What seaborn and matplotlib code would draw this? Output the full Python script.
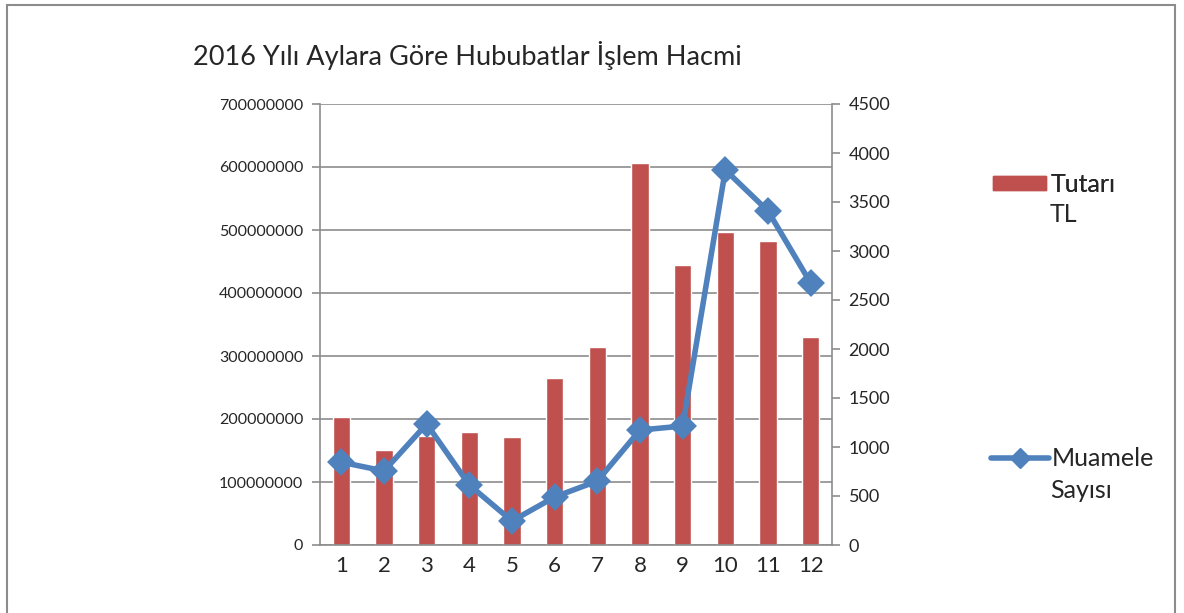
import numpy as np
import pandas as pd
import matplotlib.pyplot as plt
import seaborn as sns
from matplotlib.patches import Rectangle
from matplotlib.lines import Line2D

months = ["1", "2", "3", "4", "5", "6", "7", "8", "9", "10", "11", "12"]
tutari_tl = [203e6, 151e6, 173e6, 179e6, 171e6, 265e6, 314e6, 606e6, 444e6, 497e6, 482e6, 330e6]
muamele_sayisi = [845, 755, 1235, 612, 245, 490, 653, 1173, 1214, 3827, 3408, 2673]

df = pd.DataFrame({"Ay": months, "Tutarı TL": tutari_tl, "Muamele Sayısı": muamele_sayisi})

sns.set_style("white")
plt.rcParams["font.family"] = ["Lato", "DejaVu Sans"]

bar_color = "#C0504D"
line_color = "#4F81BD"
grid_color = "#8C8C8C"

fig = plt.figure(figsize=(11.84, 6.13), dpi=100)
ax = fig.add_axes([320 / 1184, 1 - 545 / 613, 512 / 1184, 441 / 613])

sns.barplot(data=df, x="Ay", y="Tutarı TL", color=bar_color, width=0.4,
            saturation=1, ax=ax, zorder=2)
ax.set_ylim(0, 700e6)
ax.set_yticks(np.arange(0, 700e6 + 1, 100e6))
ax.set_yticklabels([f"{int(v)}" for v in np.arange(0, 700e6 + 1, 100e6)], fontsize=11.5)
ax.set_xlim(-0.5, 11.5)
ax.set_xlabel("")
ax.set_ylabel("")
ax.tick_params(axis="x", length=0, labelsize=16, pad=8)
ax.set_xticks(np.arange(-0.5, 12, 1), minor=True)
ax.tick_params(axis="x", which="minor", length=6, color=grid_color, width=1.2)
ax.tick_params(axis="y", length=6, color=grid_color, width=1.2, direction="out", pad=6)
ax.yaxis.grid(True, color=grid_color, linewidth=1.2, zorder=0)
ax.set_axisbelow(True)
for side in ["top", "right"]:
    ax.spines[side].set_visible(False)
for side in ["left", "bottom"]:
    ax.spines[side].set_color(grid_color)
    ax.spines[side].set_linewidth(1.2)

ax2 = ax.twinx()
sns.pointplot(data=df, x="Ay", y="Muamele Sayısı", color=line_color, markers="D",
              markersize=11, linewidth=4, ax=ax2, zorder=3)
ax2.set_ylim(0, 4500)
ax2.set_yticks(np.arange(0, 4501, 500))
ax2.set_yticklabels([str(v) for v in range(0, 4501, 500)], fontsize=13)
ax2.set_xlim(-0.5, 11.5)
ax2.set_ylabel("")
ax2.set_xlabel("")
ax2.tick_params(axis="y", length=6, color=grid_color, width=1.2, direction="out", pad=6)
for side in ["top", "left", "bottom"]:
    ax2.spines[side].set_visible(False)
ax2.spines["right"].set_color(grid_color)
ax2.spines["right"].set_linewidth(1.2)

fig.text(193 / 1184, 1 - 55 / 613, "2016 Yılı Aylara Göre Hububatlar İşlem Hacmi",
         fontsize=19.5, va="center", ha="left")

# legend: handle + first line, second line as extra text
leg_fs = 18
bar_handle = Rectangle((0, 0), 1, 1, color=bar_color)
line_handle = Line2D([0], [0], color=line_color, linewidth=4, marker="D", markersize=10)
leg1 = fig.legend([bar_handle], ["Tutarı"], loc="center left",
                  bbox_to_anchor=(993 / 1184, 1 - 184 / 613), frameon=False,
                  fontsize=leg_fs, handlelength=2.1, handleheight=0.5,
                  handletextpad=0.2, borderpad=0, borderaxespad=0)
fig.add_artist(leg1)
fig.text(1050 / 1184, 1 - 215 / 613, "TL", fontsize=leg_fs, va="center", ha="left")
leg2 = fig.legend([line_handle], ["Muamele"], loc="center left",
                  bbox_to_anchor=(991 / 1184, 1 - 459 / 613), frameon=False,
                  fontsize=leg_fs, handlelength=2.3, handletextpad=0.12,
                  borderpad=0, borderaxespad=0)
fig.text(1050 / 1184, 1 - 491 / 613, "Sayısı", fontsize=leg_fs, va="center", ha="left")

fig.add_artist(Rectangle((7 / 1184, -0.05), 1168 / 1184, 1.05 - 5 / 613,
                         transform=fig.transFigure, fill=False,
                         edgecolor=grid_color, linewidth=1.5))

fig.savefig("out.png", dpi=100)
